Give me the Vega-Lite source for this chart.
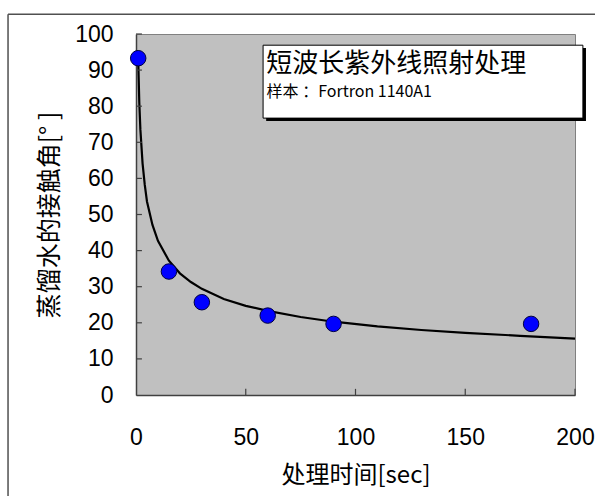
{
  "$schema": "https://vega.github.io/schema/vega-lite/v6.json",
  "width": 439,
  "height": 361,
  "autosize": "none",
  "padding": {"left": 136, "top": 34, "right": 20, "bottom": 101},
  "background": "white",
  "config": {
    "view": {"fill": "#C0C0C0", "stroke": "#808080", "strokeWidth": 1},
    "axis": {
      "grid": false,
      "ticks": false,
      "domainColor": "#404040",
      "domainWidth": 1.5,
      "labelFont": "Liberation Sans",
      "labelFontSize": 23,
      "labelColor": "#000000",
      "labelOverlap": false,
      "titleFont": "Noto Sans CJK SC",
      "titleFontSize": 24,
      "titleFontWeight": "normal",
      "titleColor": "#000000"
    },
    "axisX": {
      "tickCount": 4,
      "labelPadding": 31,
      "titlePadding": 14,
      "labelFlush": false
    },
    "axisY": {
      "tickCount": 10,
      "titleFontSize": 25,
      "labelPadding": 23,
      "titlePadding": 12
    }
  },
  "datasets": {
    "points": [
      {"t": 1, "angle": 93.3},
      {"t": 15, "angle": 34.2},
      {"t": 30, "angle": 25.7},
      {"t": 60, "angle": 22.0},
      {"t": 90, "angle": 19.7},
      {"t": 180, "angle": 19.7}
    ],
    "fit": [
      {"t": 1, "angle": 93},
      {"t": 1.5, "angle": 81},
      {"t": 2, "angle": 73.5},
      {"t": 3, "angle": 64.1},
      {"t": 4, "angle": 58.2},
      {"t": 5, "angle": 53.6},
      {"t": 7.5, "angle": 47.1},
      {"t": 10, "angle": 42.7},
      {"t": 15, "angle": 37.2},
      {"t": 20, "angle": 33.7},
      {"t": 25, "angle": 31.3},
      {"t": 30, "angle": 29.4},
      {"t": 40, "angle": 26.6},
      {"t": 50, "angle": 24.7},
      {"t": 60, "angle": 23.3},
      {"t": 75, "angle": 21.6},
      {"t": 90, "angle": 20.3},
      {"t": 110, "angle": 19.0},
      {"t": 130, "angle": 18.0},
      {"t": 150, "angle": 17.2},
      {"t": 175, "angle": 16.4},
      {"t": 200, "angle": 15.6}
    ],
    "yticks": [
      {"v": 10}, {"v": 20}, {"v": 30}, {"v": 40}, {"v": 50},
      {"v": 60}, {"v": 70}, {"v": 80}, {"v": 90}, {"v": 100}
    ],
    "xticks": [
      {"v": 50}, {"v": 100}, {"v": 150}, {"v": 200}
    ]
  },
  "layer": [
    {
      "data": {"name": "fit"},
      "mark": {"type": "line", "color": "#000000", "strokeWidth": 2.2, "clip": true},
      "encoding": {
        "x": {"field": "t", "type": "quantitative", "title": "处理时间[sec]", "scale": {"domain": [0, 200], "nice": false}},
        "y": {"field": "angle", "type": "quantitative", "title": "蒸馏水的接触角[° ]", "scale": {"domain": [0, 100], "nice": false}}
      }
    },
    {
      "data": {"name": "yticks"},
      "mark": {"type": "rule", "color": "#404040", "strokeWidth": 1.2, "clip": false},
      "encoding": {
        "y": {"field": "v", "type": "quantitative"},
        "x": {"datum": 0},
        "x2": {"datum": 2.7}
      }
    },
    {
      "data": {"name": "xticks"},
      "mark": {"type": "rule", "color": "#404040", "strokeWidth": 1.2, "clip": false},
      "encoding": {
        "x": {"field": "v", "type": "quantitative"},
        "y": {"datum": 0},
        "y2": {"datum": 1.7}
      }
    },
    {
      "data": {"name": "points"},
      "mark": {"type": "point", "shape": "circle", "filled": true, "fill": "#0000FF", "stroke": "#000040", "strokeWidth": 1, "size": 240, "opacity": 1, "clip": false},
      "encoding": {
        "x": {"field": "t", "type": "quantitative"},
        "y": {"field": "angle", "type": "quantitative"}
      }
    },
    {
      "data": {"values": [{}]},
      "mark": {"type": "rect", "fill": "#000000", "clip": false},
      "encoding": {
        "x": {"datum": 59.3},
        "x2": {"datum": 205.0},
        "y": {"datum": 96.1},
        "y2": {"datum": 75.9}
      }
    },
    {
      "data": {"values": [{}]},
      "mark": {"type": "rect", "fill": "#FFFFFF", "stroke": "#000000", "strokeWidth": 1, "clip": false},
      "encoding": {
        "x": {"datum": 57.9},
        "x2": {"datum": 203.6},
        "y": {"datum": 96.9},
        "y2": {"datum": 76.7}
      }
    },
    {
      "data": {"values": [{"label": "短波长紫外线照射处理"}]},
      "mark": {"type": "text", "font": "Noto Sans CJK SC", "fontSize": 26, "align": "left", "baseline": "middle", "color": "#000000", "clip": false},
      "encoding": {
        "x": {"datum": 59.3},
        "y": {"datum": 91.7},
        "text": {"field": "label"}
      }
    },
    {
      "data": {"values": [{"label": "样本 ：Fortron 1140A1"}]},
      "mark": {"type": "text", "font": "Noto Sans CJK SC", "fontSize": 16, "fontWeight": "normal", "align": "left", "baseline": "middle", "color": "#000000", "clip": false},
      "encoding": {
        "x": {"datum": 59.5},
        "y": {"datum": 83.9},
        "text": {"field": "label"}
      }
    },
    {
      "data": {"values": [{}]},
      "mark": {"type": "rule", "color": "#505050", "strokeWidth": 1.5, "clip": false},
      "encoding": {
        "x": {"datum": -58.3},
        "y": {"datum": 105.5},
        "y2": {"datum": -30}
      }
    },
    {
      "data": {"values": [{}]},
      "mark": {"type": "rule", "color": "#505050", "strokeWidth": 1.5, "clip": false},
      "encoding": {
        "x": {"datum": -58.3},
        "x2": {"datum": 215},
        "y": {"datum": 105.5}
      }
    }
  ]
}
